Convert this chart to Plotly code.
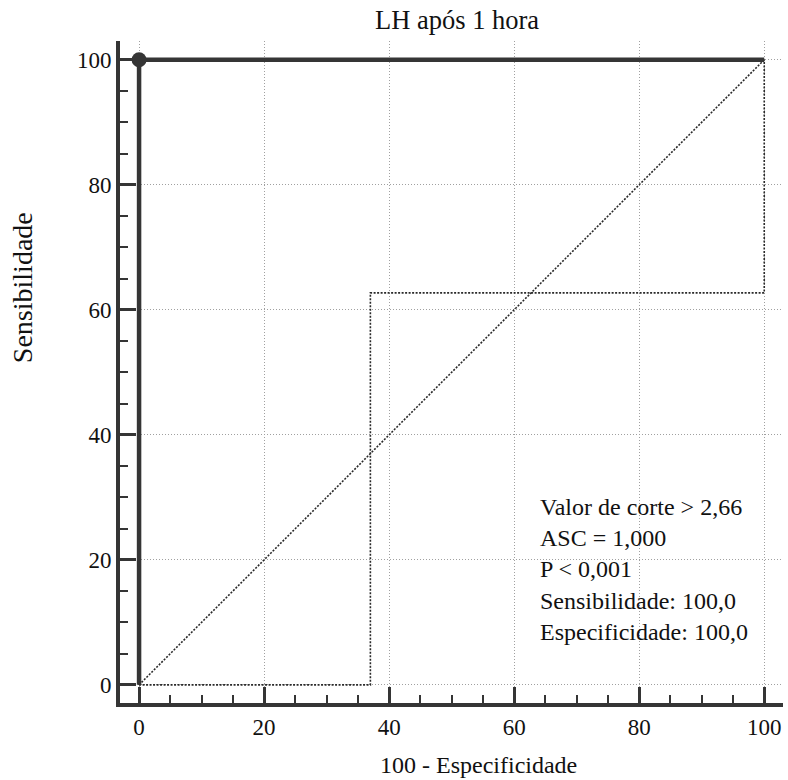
import plotly.graph_objects as go

# ROC curve (empirical)
roc_x = [0, 0, 100]
roc_y = [0, 100, 100]
# Confidence bounds (dotted)
lower_x = [0, 37, 37, 100, 100]
lower_y = [0, 0, 62.7, 62.7, 100]
upper_x = [0, 0, 100]
upper_y = [0, 100, 100]
# Reference diagonal
diag_x = [0, 100]
diag_y = [0, 100]
# Optimal cut-off point
cut_x = [0]
cut_y = [100]

tick_vals = [0, 20, 40, 60, 80, 100]
tick_text = ["0", "20", "40", "60", "80", "100"]

stats_lines = [
    "Valor de corte > 2,66",
    "ASC = 1,000",
    "P < 0,001",
    "Sensibilidade: 100,0",
    "Especificidade: 100,0",
]

FONT = "Liberation Serif"
DARK = "#353535"
DOT = "2px,1.5px"

fig = go.Figure()
for xs, ys in [(diag_x, diag_y), (lower_x, lower_y), (upper_x, upper_y)]:
    fig.add_trace(go.Scatter(x=xs, y=ys, mode="lines",
                             line=dict(color="#2a2a2a", width=1.6, dash=DOT),
                             hoverinfo="skip", showlegend=False))
fig.add_trace(go.Scatter(x=roc_x, y=roc_y, mode="lines",
                         line=dict(color=DARK, width=4.5),
                         showlegend=False))
fig.add_trace(go.Scatter(x=cut_x, y=cut_y, mode="markers",
                         marker=dict(color=DARK, size=15),
                         cliponaxis=False, showlegend=False))

axis_common = dict(
    tickmode="array", tickvals=tick_vals, ticktext=tick_text,
    showline=True, linecolor=DARK, linewidth=4,
    ticks="inside", ticklen=16, tickwidth=3, tickcolor=DARK,
    showgrid=True, gridcolor="#a0a0a0", griddash="1px,2px", gridwidth=1,
    zeroline=False,
    tickfont=dict(family=FONT, size=23, color="#111111"),
    minor=dict(dtick=5, tick0=0, ticks="inside", ticklen=8, tickwidth=2,
               tickcolor=DARK, showgrid=False),
)

fig.update_layout(
    width=788, height=780,
    margin=dict(l=120, r=5, t=41, b=77),
    plot_bgcolor="white", paper_bgcolor="white",
    xaxis=dict(range=[-3.05, 103], **axis_common),
    yaxis=dict(range=[-2.9, 103], **axis_common),
    font=dict(family=FONT, color="#111111"),
)

fig.add_annotation(text="LH após 1 hora", xref="paper", yref="paper",
                   x=0.508, y=1.032, xanchor="center", yanchor="middle",
                   showarrow=False, font=dict(family=FONT, size=26.5))
fig.add_annotation(text="100 - Especificidade", xref="paper", yref="paper",
                   x=0.54, y=-0.094, xanchor="center", yanchor="middle",
                   showarrow=False, font=dict(family=FONT, size=24))
fig.add_annotation(text="Sensibilidade", xref="paper", yref="paper",
                   x=-0.146, y=0.627, xanchor="center", yanchor="middle",
                   textangle=-90, showarrow=False, font=dict(family=FONT, size=28))
fig.add_annotation(text="<br>".join(stats_lines), xref="x", yref="y",
                   x=63.8, y=18.4, xanchor="left", yanchor="middle", align="left",
                   showarrow=False, font=dict(family=FONT, size=24))

fig.write_html("out.html")
